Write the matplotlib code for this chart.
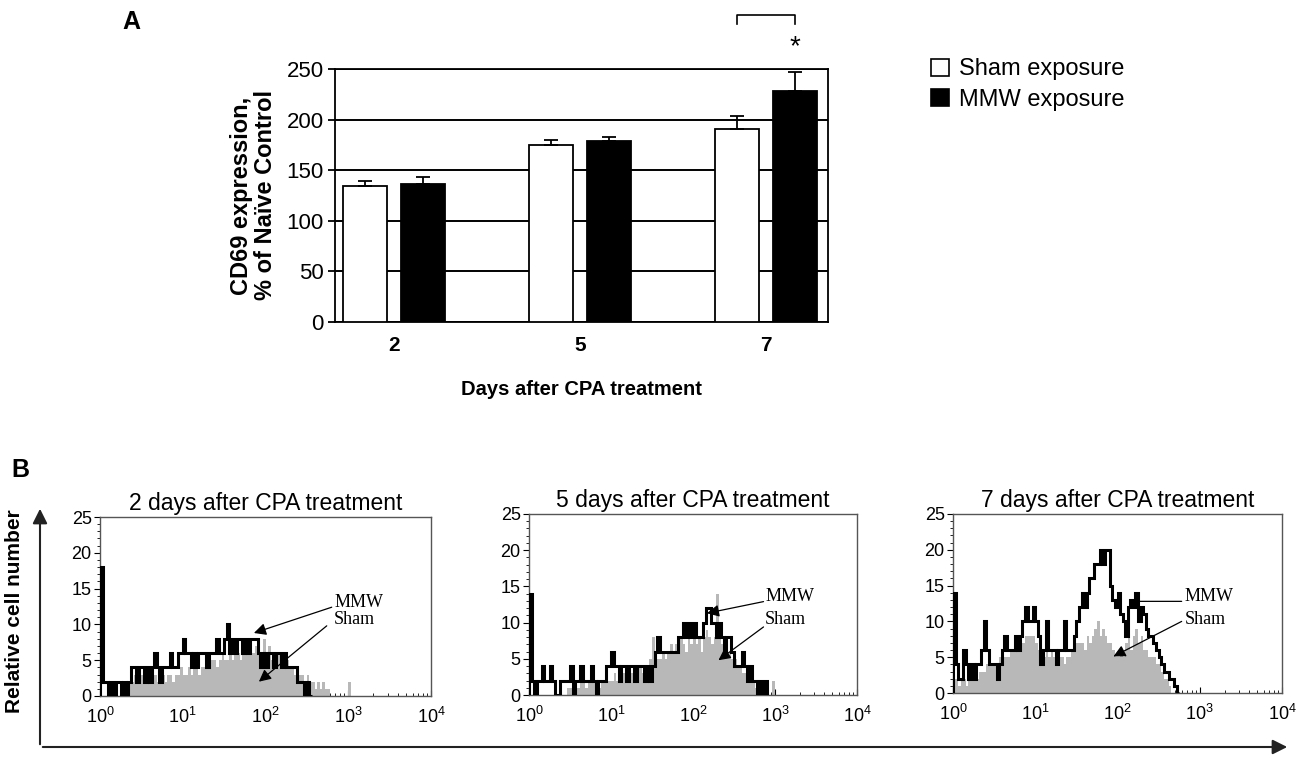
import numpy as np
import matplotlib

matplotlib.use("Agg")
import matplotlib.pyplot as plt
from matplotlib.patches import Patch, FancyArrowPatch
from matplotlib.ticker import MultipleLocator, LogLocator, NullFormatter

plt.rcParams["font.family"] = ["Liberation Sans", "DejaVu Sans"]
plt.rcParams["mathtext.default"] = "regular"

# ── Panel A: CD69 expression (% of naive control) ───────────────────────────
DAYS = ["2", "5", "7"]
SHAM_MEAN = [134, 175, 191]
SHAM_ERR = [5, 5, 13]
MMW_MEAN = [136, 179, 228]
MMW_ERR = [7, 4, 19]
SERIES = ["Sham exposure", "MMW exposure"]

# ── Panel B: flow cytometry histograms, 32 channels per decade from 10^0 ────
BINS_PER_DECADE = 32
TITLES = ["2 days after CPA treatment", "5 days after CPA treatment",
          "7 days after CPA treatment"]

P1_MMW = [18,
          2, 2, 0, 2, 0, 2, 2, 0, 2, 0,
          2, 4, 4, 2, 4, 4, 2, 4, 2, 4,
          6, 4, 2, 4, 4, 4, 6, 4, 4, 6,
          6, 8, 6, 6, 4, 6, 4, 6, 6, 6,
          4, 6, 6, 6, 8, 6, 6, 8, 10, 6,
          8, 6, 8, 8, 6, 8, 6, 8, 8, 8,
          6, 4, 6, 4, 6, 6, 4, 6, 6, 4,
          6, 4, 4, 4, 4, 2, 2, 2, 0, 2,
          0]
P1_SHAM = [0,
           0, 0, 0, 0, 0, 0, 0, 0, 0, 0,
           2, 2, 3, 2, 2, 3, 2, 3, 2, 2,
           3, 2, 3, 3, 2, 3, 3, 2, 3, 3,
           4, 3, 3, 4, 3, 4, 4, 3, 4, 4,
           5, 4, 5, 5, 4, 5, 6, 5, 5, 6,
           5, 6, 6, 5, 6, 6, 7, 6, 6, 7,
           8, 6, 8, 6, 7, 5, 6, 5, 6, 5,
           4, 5, 4, 4, 3, 4, 3, 3, 2, 3,
           2, 2, 1, 2, 1, 2, 1, 1, 0, 0,
           0, 0, 0, 0, 0, 2, 0]

P2_MMW = [14,
          2, 0, 2, 2, 4, 2, 2, 4, 2, 0,
          0, 2, 2, 2, 2, 4, 0, 2, 2, 4,
          2, 2, 2, 4, 2, 0, 2, 2, 2, 4,
          4, 6, 4, 4, 2, 4, 4, 2, 4, 4,
          2, 4, 4, 4, 2, 4, 2, 4, 6, 8,
          6, 6, 6, 6, 6, 6, 6, 8, 8, 10,
          8, 10, 8, 10, 8, 8, 8, 10, 12, 12,
          10, 10, 8, 10, 8, 6, 8, 8, 6, 4,
          4, 4, 6, 4, 2, 4, 2, 2, 0, 2,
          0, 2]
P2_SHAM = [0,
           0, 0, 0, 0, 0, 0, 0, 0, 0, 0,
           0, 0, 0, 0, 1, 1, 0, 1, 1, 2,
           2, 1, 2, 2, 2, 2, 1, 2, 2, 2,
           2, 2, 3, 2, 3, 3, 3, 2, 3, 3,
           3, 3, 4, 3, 4, 4, 5, 8, 4, 5,
           5, 6, 5, 6, 7, 6, 7, 6, 8, 7,
           6, 8, 7, 8, 7, 8, 6, 8, 9, 8,
           7, 8, 14, 8, 7, 6, 6, 6, 5, 5,
           4, 4, 3, 3, 2, 2, 2, 1, 0, 0,
           0, 0, 0, 0, 2, 0]

P3_MMW = [14,
          4, 2, 2, 6, 4, 2, 4, 2, 4, 4,
          6, 10, 6, 4, 4, 4, 2, 4, 6, 8,
          6, 6, 6, 8, 6, 8, 10, 12, 10, 10,
          12, 10, 8, 4, 6, 10, 6, 6, 6, 4,
          6, 6, 10, 6, 6, 6, 8, 10, 12, 14,
          12, 14, 16, 16, 18, 18, 20, 18, 20, 20,
          15, 13, 12, 14, 11, 10, 8, 12, 13, 12,
          14, 10, 12, 11, 9, 8, 8, 7, 6, 5,
          4, 3, 3, 2, 2, 1, 0]
P3_SHAM = [2,
           2, 1, 2, 2, 1, 2, 2, 2, 2, 3,
           3, 3, 4, 4, 4, 4, 4, 5, 5, 5,
           5, 6, 6, 6, 7, 7, 7, 8, 8, 8,
           8, 7, 6, 6, 5, 6, 5, 6, 5, 5,
           5, 5, 4, 5, 5, 6, 7, 7, 7, 7,
           6, 8, 7, 8, 9, 10, 8, 9, 8, 7,
           7, 6, 5, 5, 6, 5, 7, 8, 6, 8,
           9, 7, 8, 6, 6, 5, 5, 5, 4, 4,
           3, 2, 2, 1]

# (text x in decades, text y, arrow start (dec, y), arrow tip (dec, y), head?)
MMW_NOTES = [(2.83, 13.0, (2.80, 12.4), (1.86, 8.8), True),
             (2.88, 13.6, (2.86, 12.9), (2.17, 11.3), True),
             (2.82, 13.5, (2.78, 12.8), (2.25, 12.8), False)]
SHAM_NOTES = [(2.83, 10.7, (2.74, 9.8), (1.92, 2.0), True),
              (2.88, 10.4, (2.86, 9.4), (2.31, 4.8), True),
              (2.82, 10.2, (2.78, 10.0), (1.95, 5.1), True)]

W, H = 1303, 764


def fig_rect(x0, y0, x1, y1):
    """Pixel box (left, top, right, bottom) -> figure fraction rect."""
    return [x0 / W, 1 - y1 / H, (x1 - x0) / W, (y1 - y0) / H]


fig = plt.figure(figsize=(W / 100, H / 100), dpi=100)

# ── Panel A ─────────────────────────────────────────────────────────────────
ax = fig.add_axes(fig_rect(335, 69, 828, 322))
x = np.arange(len(DAYS))
off, bw = 0.156, 0.237
ax.bar(x - off, SHAM_MEAN, bw, color="white", edgecolor="black", lw=1.3, zorder=3)
ax.bar(x + off, MMW_MEAN, bw, color="black", edgecolor="black", lw=1.3, zorder=3)
ax.errorbar(x - off, SHAM_MEAN, yerr=[[0] * 3, SHAM_ERR], fmt="none", ecolor="black",
            elinewidth=1.3, capsize=5, capthick=1.3, zorder=4)
ax.errorbar(x + off, MMW_MEAN, yerr=[[0] * 3, MMW_ERR], fmt="none", ecolor="black",
            elinewidth=1.3, capsize=5, capthick=1.3, zorder=4)
ax.set_xlim(-0.317, 2.333)
ax.set_ylim(0, 250)
ax.set_yticks(range(0, 251, 50))
ax.yaxis.grid(True, color="black", lw=1.4, zorder=1)
ax.set_axisbelow(True)
ax.set_xticks(x)
ax.set_xticklabels(DAYS, fontsize=15, fontweight="bold")
ax.tick_params(axis="x", length=0, pad=10)
ax.tick_params(axis="y", length=5, width=1.3, labelsize=16, pad=3)
for sp in ax.spines.values():
    sp.set_linewidth(1.3)
ax.set_xlabel("Days after CPA treatment", fontsize=14.5, fontweight="bold", labelpad=18)
ax.set_ylabel("CD69 expression,\n% of Naïve Control", fontsize=17,
              fontweight="bold", linespacing=1.05)
ax.yaxis.set_label_coords(-0.118, 0.5)

# significance bracket between day-7 bars
bx0, bx1 = 2 - off, 2 + off
ax.plot([bx0, bx0, bx1, bx1], [294, 303, 303, 294], color="black", lw=1.2,
        clip_on=False)
ax.text(bx1, 272, "*", ha="center", va="center", fontsize=20, clip_on=False)

fig.legend(handles=[Patch(facecolor="white", edgecolor="black", lw=1.2),
                    Patch(facecolor="black", edgecolor="black", lw=1.2)],
           labels=SERIES, loc="upper left", bbox_to_anchor=(922 / W, 1 - 49 / H),
           frameon=False, fontsize=17, handlelength=0.75, handleheight=0.75,
           handletextpad=0.4, labelspacing=0.35, borderaxespad=0)

fig.text(131 / W, 1 - 22 / H, "A", fontsize=18, fontweight="bold", ha="center", va="center")
fig.text(20 / W, 1 - 470 / H, "B", fontsize=18, fontweight="bold", ha="center", va="center")

# ── Panel B ─────────────────────────────────────────────────────────────────
boxes = [(100, 517, 431, 696), (529, 514, 857, 695), (953, 514, 1282, 693)]
hists = [(P1_SHAM, P1_MMW), (P2_SHAM, P2_MMW), (P3_SHAM, P3_MMW)]

for i, (box, (sham, mmw)) in enumerate(zip(boxes, hists)):
    hx = fig.add_axes(fig_rect(*box))
    e_s = 10 ** (np.arange(len(sham) + 1) / BINS_PER_DECADE)
    e_m = 10 ** (np.arange(len(mmw) + 1) / BINS_PER_DECADE)
    hx.stairs(sham, e_s, fill=True, color="#b8b8b8", lw=0, zorder=2)
    hx.stairs(mmw, e_m, color="black", lw=2.2, baseline=0, zorder=3)
    hx.set_xscale("log")
    hx.set_xlim(1, 1e4)
    hx.set_ylim(0, 25)
    hx.set_xticks([1, 10, 100, 1000, 10000])
    hx.set_xticklabels([r"$10^{%d}$" % k for k in range(5)])
    hx.xaxis.set_minor_locator(LogLocator(base=10, subs=np.arange(2, 10)))
    hx.xaxis.set_minor_formatter(NullFormatter())
    hx.yaxis.set_major_locator(MultipleLocator(5))
    hx.yaxis.set_minor_locator(MultipleLocator(1))
    hx.tick_params(axis="x", which="major", direction="in", length=4, labelsize=13, pad=8)
    hx.tick_params(axis="x", which="minor", direction="in", length=2.5)
    hx.tick_params(axis="y", which="major", direction="out", length=4, labelsize=13, pad=2)
    hx.tick_params(axis="y", which="minor", direction="out", length=2)
    for sp in hx.spines.values():
        sp.set_color("#555555")
        sp.set_linewidth(1.0)
    hx.set_title(TITLES[i], fontsize=16.5, pad=5)

    for notes, label in ((MMW_NOTES[i], "MMW"), (SHAM_NOTES[i], "Sham")):
        tx, ty, start, tip, head = notes
        hx.annotate("", xy=(10 ** tip[0], tip[1]), xytext=(10 ** start[0], start[1]),
                    arrowprops=dict(arrowstyle="-|>" if head else "-", color="black",
                                    lw=0.9, mutation_scale=18, shrinkA=0, shrinkB=0),
                    zorder=5)
        hx.text(10 ** tx, ty, label, fontsize=13, family="Liberation Serif",
                ha="left", va="center", zorder=5)

# big axis arrows for panel B
fig.add_artist(FancyArrowPatch((40 / W, 1 - 747 / H), (40 / W, 1 - 506 / H),
                               transform=fig.transFigure, arrowstyle="-|>",
                               mutation_scale=22, lw=1.5, color="#222222"))
fig.add_artist(FancyArrowPatch((40 / W, 1 - 747 / H), (1290 / W, 1 - 747 / H),
                               transform=fig.transFigure, arrowstyle="-|>",
                               mutation_scale=22, lw=1.5, color="#222222"))
fig.text(15 / W, 1 - 611 / H, "Relative cell number", rotation=90, fontsize=15,
         fontweight="bold", ha="center", va="center")

fig.savefig("out.png", dpi=100)
